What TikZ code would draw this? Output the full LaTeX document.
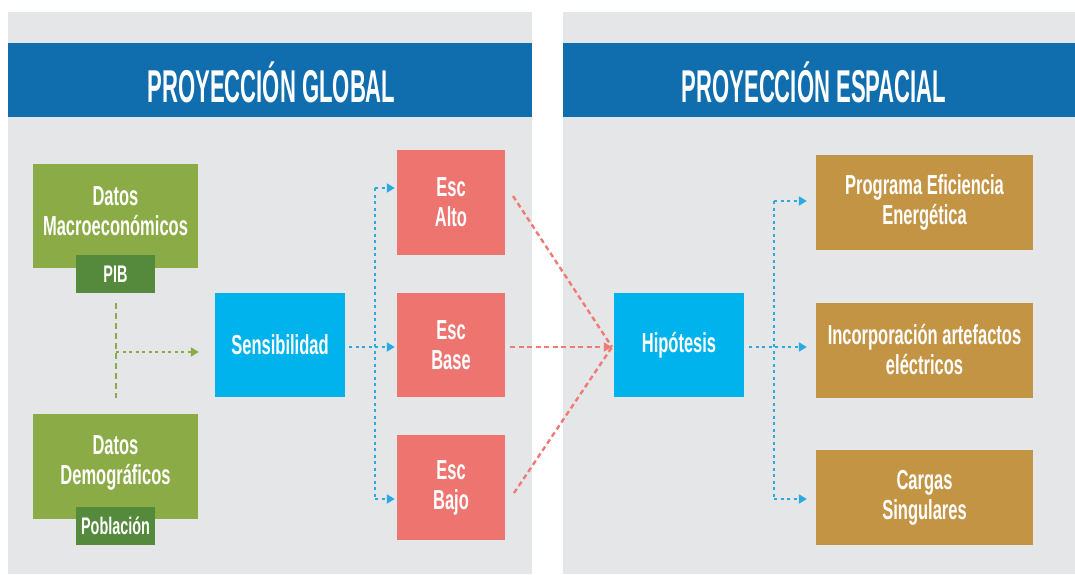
\documentclass[tikz,border=0pt]{standalone}
\usepackage{fontspec}
\usetikzlibrary{arrows.meta,calc}
\newfontfamily\boxfont[FakeStretch=0.6]{Liberation Sans}
\newfontfamily\headfont[FakeStretch=0.48]{Liberation Sans}
\definecolor{panelgray}{HTML}{E5E6E8}
\definecolor{headblue}{HTML}{106DAE}
\definecolor{olive}{HTML}{8BAB46}
\definecolor{darkgreen}{HTML}{55893B}
\definecolor{cyanbox}{HTML}{00B3ED}
\definecolor{salmon}{HTML}{ED746F}
\definecolor{brownbox}{HTML}{C49445}
\definecolor{dotblue}{HTML}{2BAAE1}
\definecolor{redline}{HTML}{F07B74}
\tikzset{
  box/.style={rectangle, inner sep=0pt, text=white, align=center,
    font=\boxfont\bfseries\fontsize{27.5}{30}\selectfont},
  greenbox/.style={box, fill=olive, minimum width=165pt},
  tagbox/.style={box, fill=darkgreen, minimum width=79pt, minimum height=38pt,
    font=\boxfont\bfseries\fontsize{24}{27}\selectfont},
  cyannode/.style={box, fill=cyanbox, minimum width=130pt, minimum height=104pt},
  escbox/.style={box, fill=salmon, minimum width=108pt},
  brownnode/.style={box, fill=brownbox, minimum width=217pt, minimum height=95pt},
  header/.style={rectangle, fill=headblue, inner sep=0pt, minimum height=74pt, text=white,
    font=\headfont\bfseries\fontsize{46}{48}\selectfont},
  bluedot/.style={draw=dotblue, line width=2.4pt, dash pattern=on 3pt off 3.5pt},
  bluearrow/.style={bluedot, -{Triangle[length=8pt,width=9pt]}},
  greendash/.style={draw=olive, line width=2pt, dash pattern=on 6pt off 4pt},
  greenarrow/.style={draw=olive, line width=2.2pt, dash pattern=on 3pt off 3.5pt, -{Triangle[length=8pt,width=9pt]}},
  reddash/.style={draw=redline, line width=2.4pt, dash pattern=on 5pt off 3.5pt},
  redarrow/.style={reddash, -{Triangle[length=8pt,width=9pt]}}
}
\begin{document}
\begin{tikzpicture}[x=1pt, y=-1pt]
\useasboundingbox (0,0) rectangle (1075,574);
\fill[white] (0,0) rectangle (1075,574);
% panels
\fill[panelgray] (8,12) rectangle (532,574);
\fill[panelgray] (563,12) rectangle (1075,574);
\node[header, minimum width=524pt] (hg) at (270,80) {};
\node[text=white, font=\headfont\bfseries\fontsize{46}{48}\selectfont] (hgt) at (271.5,82) {PROYECCIÓN GLOBAL};
\node[header, minimum width=512pt] (he) at (819,80) {};
\node[text=white, font=\headfont\bfseries\fontsize{46}{48}\selectfont] (het) at (814,82) {PROYECCIÓN ESPACIAL};
% left column
\node[greenbox, minimum height=104pt] (mac) at (115.5,216) {};
\node (mact) [box] at (115.5,211) {Datos\\Macroeconómicos};
\node[tagbox] (pib) at (115.5,274) {PIB};
\node[greenbox, minimum height=105pt] (dem) at (115.5,466.5) {};
\node (demt) [box] at (115.5,463) {Datos\\Demográficos};
\node[tagbox] (pob) at (115.5,526) {Población};
% center
\node[cyannode] (sens) at (280,345) {Sensibilidad};
\node[escbox, minimum height=105pt] (alto) at (451,202.5) {Esc\\Alto};
\node[escbox, minimum height=104pt] (base) at (451,345) {Esc\\Base};
\node[escbox, minimum height=105pt] (bajo) at (451,487.5) {Esc\\Bajo};
% right
\node[cyannode] (hip) at (679,345) {Hipótesis};
\node[brownnode] (ef) at (924.5,202.5) {Programa Eficiencia\\Energética};
\node[brownnode] (inc) at (924.5,350) {Incorporación artefactos\\eléctricos};
\node[brownnode] (car) at (924.5,497.5) {Cargas\\Singulares};
% green connectors
\coordinate (gm) at (116,352);
\draw[greendash] ([yshift=-10pt]pib.south) -- ([yshift=16pt]dem.north);
\draw[greenarrow] (gm) -- ([xshift=-16pt]sens.west |- gm);
% blue from Sensibilidad
\coordinate (b1) at (375,188);
\coordinate (b2) at (375,347);
\coordinate (b3) at (375,499);
\draw[bluedot] (b1) -- (b3);
\draw[bluearrow] ([xshift=4pt]sens.east |- b2) -- ([xshift=-2pt]base.west |- b2);
\draw[bluearrow] (b1) -- ([xshift=-2pt]alto.west |- b1);
\draw[bluearrow] (b3) -- ([xshift=-2pt]bajo.west |- b3);
% red connectors
\coordinate (rt) at (612,347);
\coordinate (ra) at (513,196);
\coordinate (rb) at (514,493);
\draw[reddash] (ra) -- (rt);
\draw[reddash] (rb) -- (rt);
\draw[redarrow] ([xshift=5pt]base.east |- rt) -- ([xshift=-2pt]hip.west |- rt);
% blue from Hipótesis
\coordinate (c1) at (774,201);
\coordinate (c2) at (774,347);
\coordinate (c3) at (774,499);
\draw[bluedot] (c1) -- (c3);
\draw[bluearrow] ([xshift=5pt]hip.east |- c2) -- ([xshift=-9pt]inc.west |- c2);
\draw[bluearrow] (c1) -- ([xshift=-9pt]ef.west |- c1);
\draw[bluearrow] (c3) -- ([xshift=-9pt]car.west |- c3);
\end{tikzpicture}
\end{document}
